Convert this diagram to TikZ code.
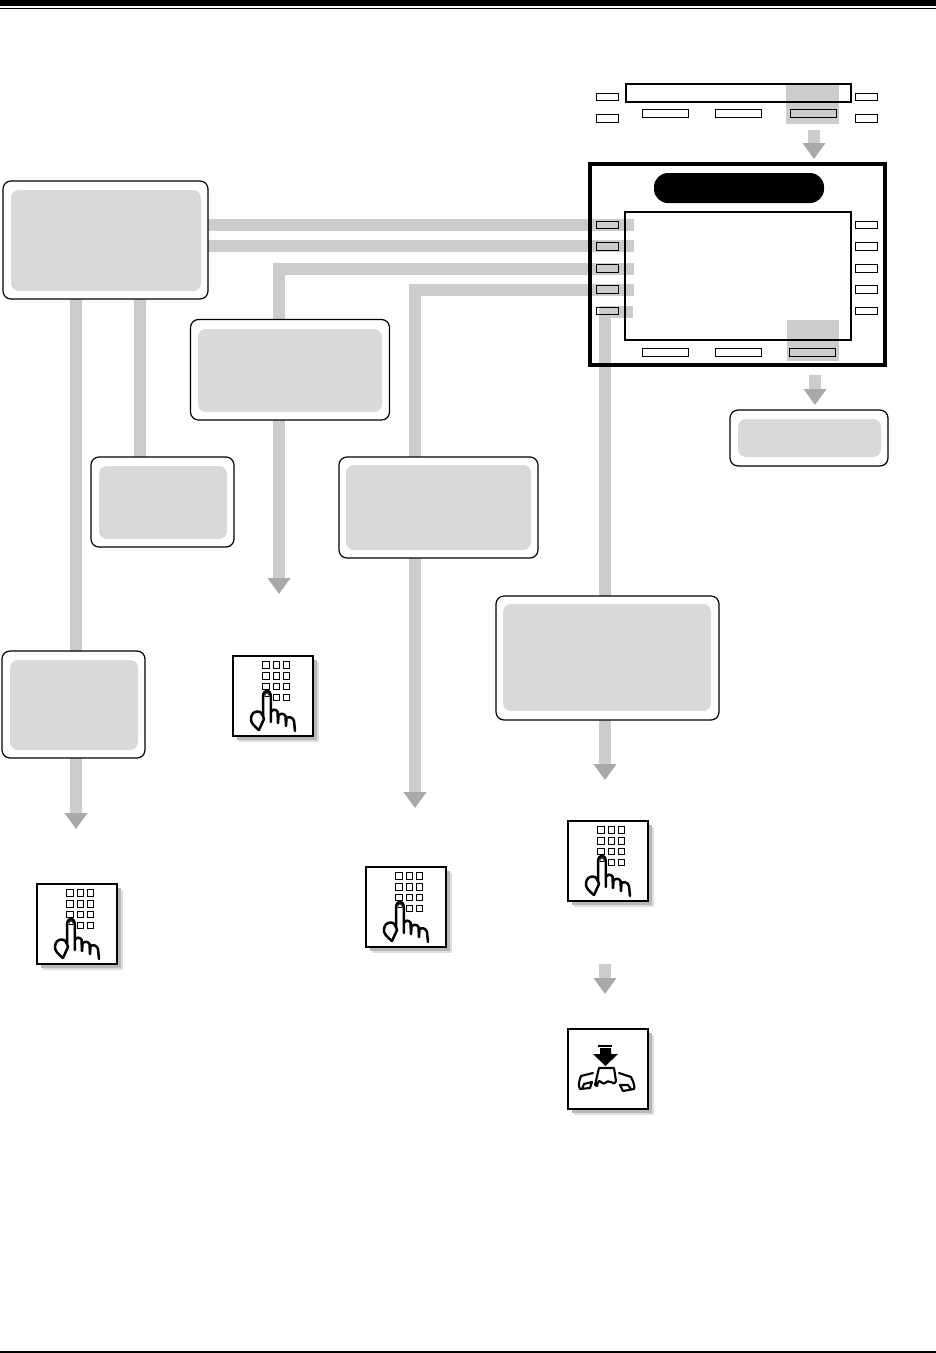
\documentclass[tikz,border=0pt]{standalone}
\usetikzlibrary{arrows.meta,fit,backgrounds}
\definecolor{barg}{HTML}{CCCCCC}
\definecolor{tipg}{HTML}{A9A9A9}
\definecolor{innerg}{HTML}{D9D9D9}
\tikzset{
  x=1pt,y=-1pt,
  outerbox/.style={draw=black,line width=1.2pt,rounded corners=8pt,fill=white,inner sep=0pt,outer sep=0pt},
  innerbox/.style={fill=innerg,rounded corners=8pt,inner sep=0pt,outer sep=0pt},
  keybox/.style={draw=black,line width=1pt,inner sep=0pt,outer sep=0pt},
  framebox/.style={draw=black,inner sep=0pt,outer sep=0pt},
  pill/.style={fill=black,rounded corners=14pt,inner sep=0pt,outer sep=0pt},
  hilite/.style={fill=barg,inner sep=0pt,outer sep=0pt},
  cardbox/.style={draw=black,line width=1.5pt,fill=white,inner sep=0pt,outer sep=0pt},
  bar/.style={draw=barg,line width=12pt},
  arrowbar/.style={bar,-{Triangle[length=16pt,width=22pt,color=tipg]}},
  padkey/.style={draw=black,line width=1pt},
  icon/.style={draw=black,line width=2.5pt,line join=round,line cap=round,fill=white},
  iconb/.style={draw=black,line width=2.1pt,line join=round,line cap=round,fill=white},
  shadowa/.style={fill=black!13},
  shadowb/.style={fill=black!28},
  keypad/.pic={
    \foreach \r in {5.9,16.6,27.3,38}{\foreach \c in {29.6,40,50.5}{
      \draw[padkey] (\c,\r) rectangle ++(6.4,6.4);}}
    \draw[icon] (26,74) .. controls (21,70) and (17,66) .. (18,62)
      .. controls (18.5,58) and (21,55.5) .. (24.5,55.5)
      .. controls (28,55.5) and (29,58) .. (30,60)
      -- (30,41) .. controls (30,37) and (32,34.5) .. (34,34.5)
      .. controls (36,34.5) and (37.8,37) .. (37.8,41)
      -- (37.8,66) -- (38,55.5) .. controls (39,53) and (42.5,53) .. (44.5,55.5)
      -- (45,67) -- (45.5,60) .. controls (46.5,57) and (51,57) .. (52.5,60)
      -- (53,70) -- (53.5,62) .. controls (55.5,60.5) and (60,61) .. (61,65)
      -- (62,75);
    \draw[icon,fill=none] (30,60) -- (31,63) -- (26,74);
    \draw[black,line width=.8pt] (32,38.5) -- (34,36.5) -- (36,38.5) -- (36,40.5) -- (32,40.5) -- cycle;
  },
  handset/.pic={
    \fill[black] (30,16) rectangle (44,17.5);
    \fill[black] (32,19) -- (43,19) -- (43,25) -- (50,25) -- (37.5,37) -- (25,25) -- (32,25) -- cycle;
    \draw[iconb] (31,39) -- (46,39) -- (48,52) .. controls (47,55) and (45,55) .. (43,53)
      .. controls (41,52) and (38,52) .. (37,54) .. controls (35,56) and (33,52) .. (31,52)
      .. controls (29,53) and (30,56) .. (29,57) -- (27,56) -- cycle;
    \draw[iconb] (25,44) -- (13,47) .. controls (11,52) and (10,57) .. (12,60)
      -- (22,59) -- (24,53) -- (16,55) -- (14,60);
    \draw[iconb] (51,44) -- (63,48) .. controls (66,54) and (67,58) .. (66,60)
      -- (55,62) -- (52,56) -- (60,56) -- (63,60);
  },
}
\begin{document}
\begin{tikzpicture}
\useasboundingbox (0,0) rectangle (936,1353);
% rules
\fill[black] (0,0) rectangle (936,5.5);
\fill[black] (0,7.5) rectangle (936,9);
\fill[black] (0,1351) rectangle (936,1353);
% top panel
\node[framebox,line width=1.6pt,fit={(626,84)(851,102)}] (topscreen) {};
\node[keybox,fit={(596.5,93.5)(618.5,100.5)}] (ta) {};
\node[keybox,fit={(596.5,114.5)(618.5,122.5)}] (tb) {};
\node[keybox,fit={(855.5,93.5)(877.5,100.5)}] (tc) {};
\node[keybox,fit={(855.5,114.5)(877.5,122.5)}] (td) {};
\node[keybox,fit={(642.5,109.5)(688.5,117.5)}] (te) {};
\node[keybox,fit={(715.5,109.5)(761.5,117.5)}] (tf) {};
\node[keybox,fit={(790,109.5)(836.5,117.5)}] (tg) {};
% main panel
\node[framebox,line width=4pt,fit={(590,164)(885,365)}] (frame) {};
\node[pill,fit={(654,173)(824,203)}] (title) {};
\node[framebox,line width=1.6pt,fit={(625,212)(851,340)}] (screen) {};
\node[keybox,fit={(596.5,221.5)(618.5,228.5)}] (l1) {};
\node[keybox,fit={(596.5,242.5)(618.5,250.5)}] (l2) {};
\node[keybox,fit={(596.5,264)(618.5,272)}] (l3) {};
\node[keybox,fit={(596.5,285.5)(618.5,293.5)}] (l4) {};
\node[keybox,fit={(596.5,307.5)(618.5,314.5)}] (l5) {};
\node[keybox,fit={(855.5,221.5)(877.5,228.5)}] (r1) {};
\node[keybox,fit={(855.5,242.5)(877.5,250.5)}] (r2) {};
\node[keybox,fit={(855.5,264)(877.5,272)}] (r3) {};
\node[keybox,fit={(855.5,285.5)(877.5,293.5)}] (r4) {};
\node[keybox,fit={(855.5,307.5)(877.5,314.5)}] (r5) {};
\node[keybox,fit={(642.5,348.5)(688.5,356.5)}] (s1) {};
\node[keybox,fit={(715.5,348.5)(761.5,356.5)}] (s2) {};
\node[keybox,fit={(789.5,348.5)(835.5,356.5)}] (s3) {};
% label boxes
\node[outerbox,fit={(3,181)(208,299)}] (boxa) {};
\node[innerbox,fit={(11,190)(201,291)}] (innera) {};
\node[outerbox,fit={(190.5,319.5)(389.5,420)}] (boxc) {};
\node[innerbox,fit={(198,329)(382,412)}] (innerc) {};
\node[outerbox,fit={(91,457)(234,547)}] (boxe) {};
\node[innerbox,fit={(99,466)(227,539)}] (innere) {};
\node[outerbox,fit={(339,457)(538,558)}] (boxd) {};
\node[innerbox,fit={(346,465)(531,550)}] (innerd) {};
\node[outerbox,fit={(496,596)(719,720)}] (boxf) {};
\node[innerbox,fit={(503,604)(711,711)}] (innerf) {};
\node[outerbox,fit={(2,651)(145,758)}] (boxg) {};
\node[innerbox,fit={(10,660)(138,750)}] (innerg) {};
\node[outerbox,fit={(730,410)(888,466)}] (boxh) {};
\node[innerbox,fit={(738,419)(881,457)}] (innerh) {};
% cards
\foreach \n/\cx/\cy in {carda/233/656,cardb/568/821,cardc/37/884,cardd/366/867,carde/568/1029}{
  \fill[shadowa] (\cx+6,\cy+6) rectangle ++(80,80);
  \fill[shadowb] (\cx+4,\cy+4) rectangle ++(80,80);
  \node[cardbox,fit={(\cx,\cy)(\cx+80,\cy+80)}] (\n) {};
}
\pic at (233,656) {keypad};
\pic at (568,821) {keypad};
\pic at (37,884) {keypad};
\pic at (366,867) {keypad};
\pic at (568,1029) {handset};
% free ends
\coordinate (e1) at (634,225);
\coordinate (e2) at (634,246);
\coordinate (e3) at (634,269);
\coordinate (e4) at (634,290);
\coordinate (e5) at (633,312);
\coordinate (t3) at (279,594);
\coordinate (t4) at (415,808);
\coordinate (t5) at (605,780);
\coordinate (t7) at (76,829);
\coordinate (u1) at (814,130);
\coordinate (u2) at (814,159);
\coordinate (v1) at (815,375);
\coordinate (v2) at (815,405);
\coordinate (w1) at (605,964);
\coordinate (w2) at (605,994);
\begin{pgfonlayer}{background}
  \fill[white] (0,0) rectangle (936,1353);
  \node[hilite,fit={(786,85)(839,124)}] (hl1) {};
  \node[hilite,fit={(787,320)(839,361)}] (hl2) {};
  \draw[bar] (boxa.east |- e1) -- (e1);
  \draw[bar] (boxa.east |- e2) -- (e2);
  \draw[bar] (e3) -- (279,269) -- (279,320);
  \draw[bar] (e4) -- (415,290) -- (415,457);
  \draw[bar] (e5) -- (605,312) -- (boxf.north -| 605,0);
  \draw[bar] (76,299) -- (boxg.north -| 76,0);
  \draw[bar] (140,299) -- (boxe.north -| 140,0);
  \draw[arrowbar] (boxc.south -| t3) -- (t3);
  \draw[arrowbar] (boxd.south -| t4) -- (t4);
  \draw[arrowbar] (boxf.south -| t5) -- (t5);
  \draw[arrowbar] (boxg.south -| t7) -- (t7);
  \draw[arrowbar] (u1) -- (u2);
  \draw[arrowbar] (v1) -- (v2);
  \draw[arrowbar] (w1) -- (w2);
\end{pgfonlayer}
\end{tikzpicture}
\end{document}
